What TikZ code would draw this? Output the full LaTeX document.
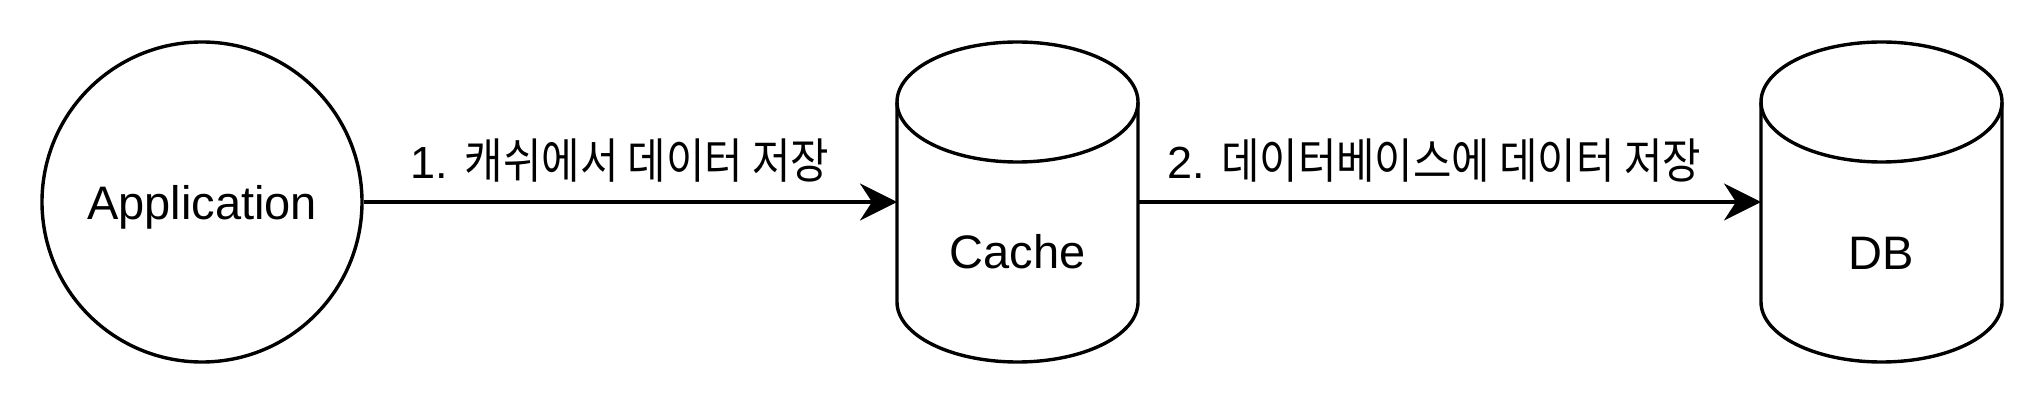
\documentclass[tikz,border=0pt]{standalone}
\usepackage{fontspec}
\setmainfont{Liberation Sans}
\newfontfamily\kr[FakeStretch=0.87]{Noto Sans CJK KR}
\usetikzlibrary{arrows.meta,calc}
\tikzset{
  shapeline/.style={line width=3.4pt, draw=black},
  box/.style={inner sep=0pt, outer sep=0pt, minimum width=241pt, minimum height=320pt},
  conn/.style={line width=3.4pt, -{Stealth[length=37pt, width=37pt, inset=12pt]}},
  nodetext/.style={font=\fontsize{47}{56}\selectfont, anchor=base},
  lbl/.style={font=\fontsize{45}{54}\selectfont, anchor=base},
}
\newcommand{\krtext}[1]{{\kr\fontsize{48}{56}\selectfont #1}}
\newcommand{\cyl}[1]{%
  \draw[shapeline, fill=white] ($(#1.north west)+(0,-60pt)$) -- ($(#1.south west)+(0,60pt)$)
    arc[start angle=180, end angle=360, x radius=120.5pt, y radius=60pt]
    -- ($(#1.north east)+(0,-60pt)$)
    arc[start angle=0, end angle=180, x radius=120.5pt, y radius=60pt] -- cycle;
  \draw[shapeline] ($(#1.north west)+(0,-60pt)$)
    arc[start angle=180, end angle=360, x radius=120.5pt, y radius=60pt];
}
\begin{document}
\begin{tikzpicture}[x=1pt,y=1pt]
\useasboundingbox[fill=white] (0,0) rectangle (2044,404);
\node[shapeline, circle, minimum size=320pt, inner sep=0pt] (app) at (202,202) {};
\node[box] (cache) at (1017.5,202) {};
\node[box] (db) at (1881.5,202) {};
\cyl{cache}
\cyl{db}
\node[nodetext] (apptxt) at (202,184) {Application};
\node[nodetext] (cachetxt) at (1017.5,135) {Cache};
\node[nodetext] (dbtxt) at (1881.5,134) {DB};
\draw[conn] (app.east) -- (cache.west);
\draw[conn] (cache.east) -- (db.west);
\node[lbl] (l1) at (620,225) {1. \krtext{캐쉬에서 데이터 저장}};
\node[lbl] (l2) at (1434,225) {2. \krtext{데이터베이스에 데이터 저장}};
\end{tikzpicture}
\end{document}
